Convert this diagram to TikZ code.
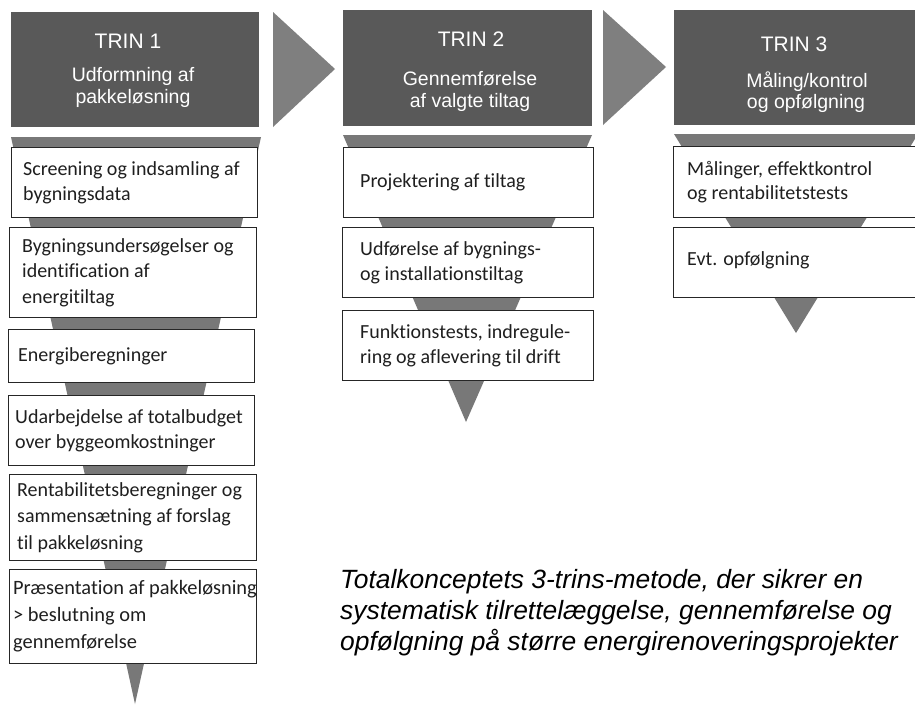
\documentclass[tikz,border=0pt]{standalone}
\usepackage{fontspec}
\setmainfont{Carlito}[Ligatures={NoCommon}]
\newfontfamily\arialfont{Liberation Sans}
\definecolor{hdrfill}{HTML}{595959}
\definecolor{chevfill}{HTML}{7F7F7F}
\definecolor{funfill}{HTML}{787878}
\definecolor{bordcol}{HTML}{262626}
\tikzset{
  hdrbox/.style={fill=hdrfill, draw=none, anchor=north west, inner sep=0pt},
  stepbox/.style={fill=white, draw=bordcol, line width=1pt, anchor=north west, inner sep=0pt},
  boxtext/.style={anchor=west, align=left, inner sep=0pt, font=\fontsize{20}{25}\selectfont, text=black!88},
  hdrtitle/.style={anchor=base, inner sep=0pt, text=white, font=\arialfont\fontsize{21}{24}\selectfont},
  hdrsub/.style={anchor=base, inner sep=0pt, text=white, font=\arialfont\fontsize{19.5}{22}\selectfont},
  captext/.style={anchor=base west, inner sep=0pt, text=black, font=\arialfont\itshape\fontsize{26.4}{31}\selectfont},
  chev/.style={fill=chevfill, draw=none},
  funnel/.style={fill=funfill, draw=none}
}
\begin{document}
\begin{tikzpicture}[x=1pt,y=-1pt]
\useasboundingbox (0,0) rectangle (915,705);
\clip (0,0) rectangle (915,705);
\fill[white] (0,0) rectangle (915,705);

% chevrons
\fill[chev] (273,12) -- (335,69) -- (273,127) -- cycle;
\fill[chev] (603,10) -- (666,67) -- (603,125) -- cycle;

% funnels
\fill[funnel] (11,137) -- (261,137) -- (135,704) -- cycle;
\fill[funnel] (343,135) -- (592,135) -- (466,422) -- cycle;
\fill[funnel] (674,134) -- (918,134) -- (796,333) -- cycle;

% header boxes
\node[hdrbox, minimum width=248pt, minimum height=115pt] (h1) at (11,12) {};
\node[hdrbox, minimum width=249pt, minimum height=116pt] (h2) at (343,10) {};
\node[hdrbox, minimum width=260pt, minimum height=115pt] (h3) at (674,10) {};

\node[hdrtitle] (h1t) at (128,48) {TRIN 1};
\node[hdrsub] (h1s1) at (133,81) {Udformning af};
\node[hdrsub] (h1s2) at (133,103) {pakkeløsning};

\node[hdrtitle] (h2t) at (471,46) {TRIN 2};
\node[hdrsub] (h2s1) at (470,85) {Gennemførelse};
\node[hdrsub] (h2s2) at (470,107) {af valgte tiltag};

\node[hdrtitle] (h3t) at (794,51) {TRIN 3};
\node[hdrsub] (h3s1) at (807,87) {Måling/kontrol};
\node[hdrsub] (h3s2) at (806,108) {og opfølgning};

% column 1 boxes
\node[stepbox, minimum width=246pt, minimum height=70pt] (a1) at (11,147) {};
\node[boxtext] (a1t) at ([xshift=12pt]a1.west) {Screening og indsamling af\\bygningsdata};
\node[stepbox, minimum width=247pt, minimum height=90pt] (a2) at (9,227) {};
\node[boxtext, font=\fontsize{20}{25.5}\selectfont] (a2t) at ([xshift=13pt]a2.west) {Bygningsundersøgelser og\\identification af\\energitiltag};
\node[stepbox, minimum width=246pt, minimum height=53pt] (a3) at (8,329) {};
\node[boxtext] (a3t) at ([xshift=10pt]a3.west) {Energiberegninger};
\node[stepbox, minimum width=246pt, minimum height=70pt] (a4) at (8,395) {};
\node[boxtext] (a4t) at ([xshift=7pt]a4.west) {Udarbejdelse af totalbudget\\over byggeomkostninger};
\node[stepbox, minimum width=247pt, minimum height=86pt] (a5) at (9,474) {};
\node[boxtext, font=\fontsize{20}{26.5}\selectfont] (a5t) at ([xshift=8pt]a5.west) {Rentabilitetsberegninger og\\sammensætning af forslag\\til pakkeløsning};
\node[stepbox, minimum width=247pt, minimum height=94pt] (a6) at (9,569) {};
\node[boxtext, font=\fontsize{20.4}{27}\selectfont] (a6t) at ([xshift=4pt]a6.west) {Præsentation af pakkeløsning\\> beslutning om\\gennemførelse};

% column 2 boxes
\node[stepbox, minimum width=250pt, minimum height=70pt] (b1) at (343,147) {};
\node[boxtext] (b1t) at ([xshift=17pt]b1.west) {Projektering af tiltag};
\node[stepbox, minimum width=251pt, minimum height=70pt] (b2) at (342,227) {};
\node[boxtext] (b2t) at ([xshift=18pt]b2.west) {Udførelse af bygnings-\\og installationstiltag};
\node[stepbox, minimum width=251pt, minimum height=70pt] (b3) at (342,310) {};
\node[boxtext] (b3t) at ([xshift=18pt]b3.west) {Funktionstests, indregule-\\ring og aflevering til drift};

% column 3 boxes
\node[stepbox, minimum width=260pt, minimum height=71pt] (c1) at (673,146) {};
\node[boxtext, font=\fontsize{20}{24}\selectfont] (c1t) at ([xshift=14pt]c1.west) {Målinger, effektkontrol\\og rentabilitetstests};
\node[stepbox, minimum width=260pt, minimum height=70pt] (c2) at (673,227) {};
\node[boxtext] (c2t) at ([xshift=14pt,yshift=2pt]c2.west) {Evt. opfølgning};

% caption
\node[captext] (cap1) at (340,588) {Totalkonceptets 3-trins-metode, der sikrer en};
\node[captext] (cap2) at (340,619) {systematisk tilrettelæggelse, gennemførelse og};
\node[captext] (cap3) at (340,650) {opfølgning på større energirenoveringsprojekter};
\end{tikzpicture}
\end{document}
